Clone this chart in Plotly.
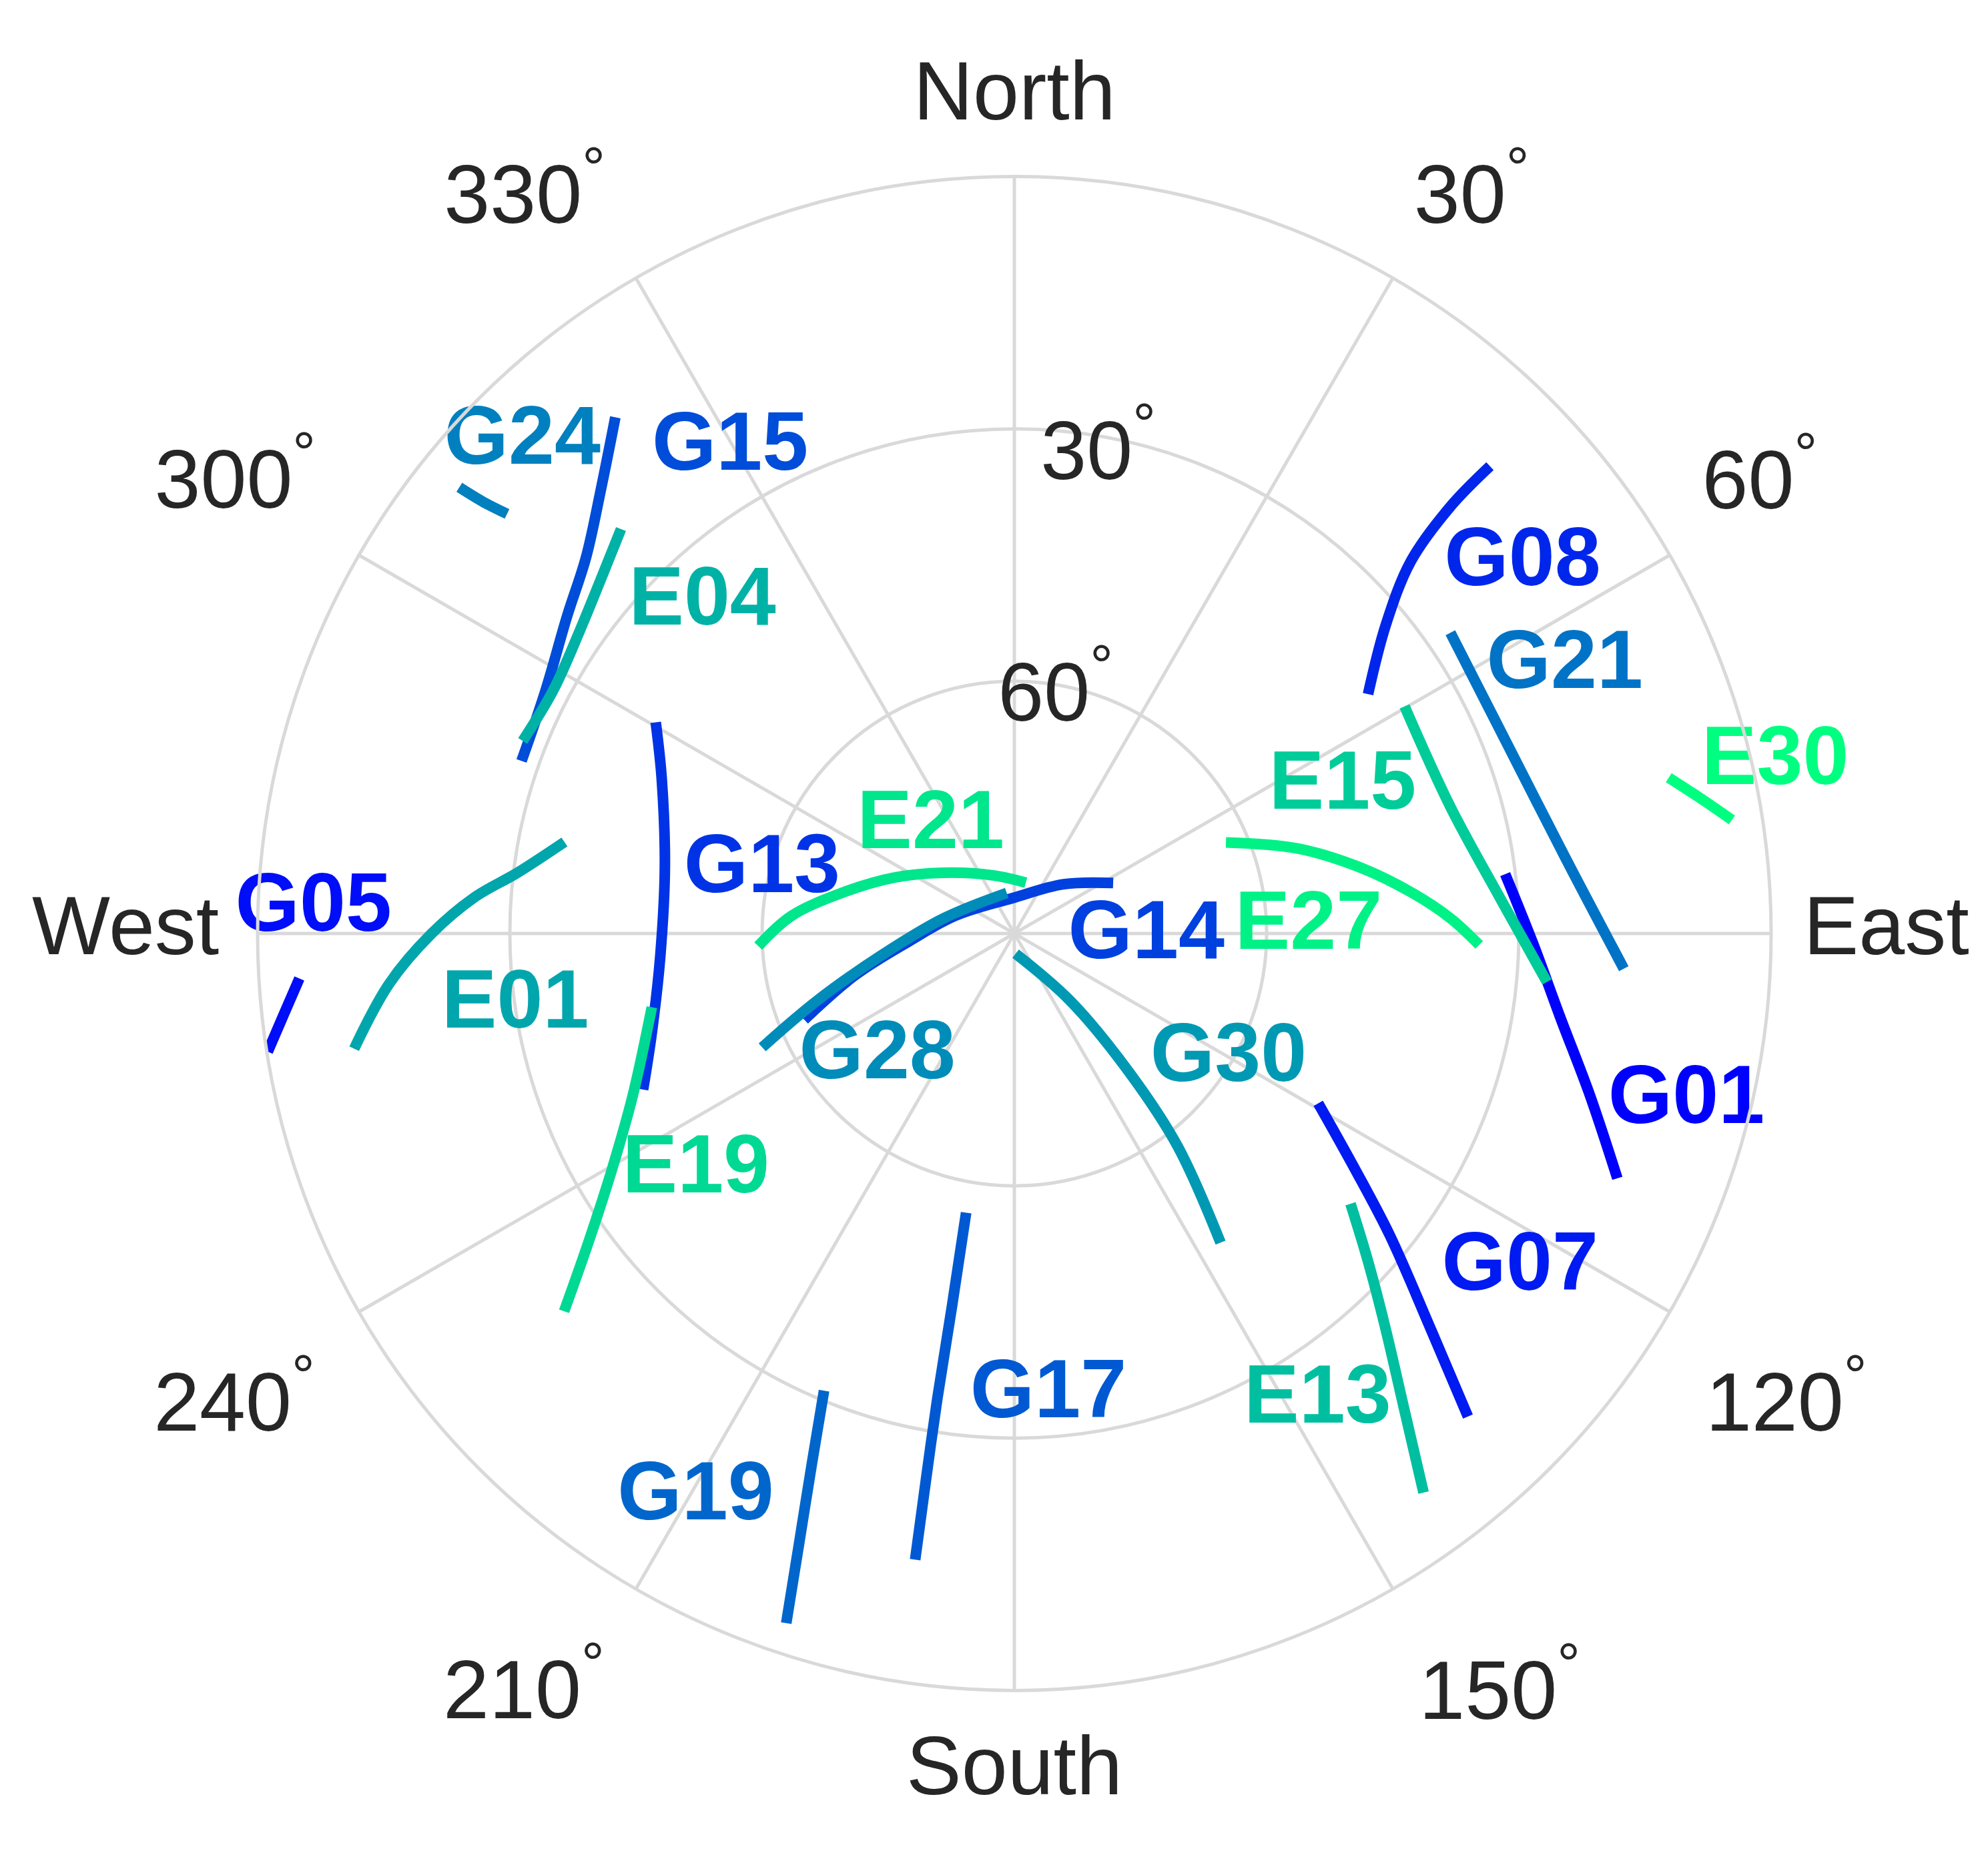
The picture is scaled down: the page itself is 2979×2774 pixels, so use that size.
import plotly.graph_objects as go

# satellite tracks: azimuth (deg, clockwise from north), elevation (deg)
G01_az = [83.1, 91.1, 98.6, 105.7, 112.1]
G01_el = [31.2, 28.3, 24.4, 18.9, 12.6]
G05_az = [266.4, 263.7, 261.0]
G05_el = [4.8, 2.6, 0.1]
G07_az = [119.2, 124.7, 128.8, 133.6, 136.8]
G07_el = [48.6, 40.7, 32.7, 21.5, 11.2]
G08_az = [45.5, 45.6, 46.8, 50.3, 55.9]
G08_el = [10.7, 17.4, 25.3, 32.6, 39.2]
G13_az = [300.5, 293.7, 280.7, 266.3, 254.7, 247.2]
G13_el = [40.5, 44.2, 47.7, 47.8, 45.3, 42.1]
G14_az = [62.9, 45.0, 355.9, 286.9, 265.9, 255.3, 247.7]
G14_el = [76.8, 81.7, 85.8, 82.7, 77.5, 70.4, 63.0]
G15_az = [322.3, 317.2, 311.3, 305.3, 297.4, 289.3]
G15_el = [12.4, 17.7, 22.2, 24.8, 27.2, 27.9]
G17_az = [189.8, 189.5, 189.4, 189.2, 189.0]
G17_el = [56.3, 45.2, 33.9, 24.6, 14.6]
G19_az = [202.6, 200.9, 199.4, 198.3]
G19_el = [31.1, 22.5, 12.8, 3.6]
G21_az = [55.4, 69.0, 82.3, 93.3]
G21_el = [27.0, 27.2, 23.8, 17.4]
G24_az = [308.8, 309.1, 309.6]
G24_el = [5.3, 8.6, 11.7]
G28_az = [245.7, 251.2, 260.4, 282.1, 349.4]
G28_el = [57.1, 65.2, 73.8, 81.4, 85.1]
G30_az = [176.4, 140.3, 140.4, 142.5, 146.3]
G30_el = [87.6, 79.6, 68.5, 58.1, 45.8]
E01_az = [281.5, 277.0, 273.8, 270.0, 265.4, 260.1]
E01_el = [35.4, 30.5, 25.6, 20.7, 15.4, 10.3]
E04_az = [315.8, 310.7, 304.9, 297.8, 291.4]
E04_el = [22.9, 25.2, 27.0, 28.0, 27.2]
E13_az = [128.8, 132.8, 136.6, 140.8, 143.8]
E13_el = [38.7, 32.7, 25.9, 16.5, 7.6]
E15_az = [59.8, 73.8, 86.0, 95.2]
E15_el = [36.3, 36.0, 32.0, 26.4]
E19_az = [258.5, 247.0, 239.4, 234.1, 230.0]
E19_el = [46.0, 40.7, 34.3, 27.5, 20.1]
E21_az = [267.2, 274.5, 283.2, 294.6, 310.6, 340.8, 12.7]
E21_el = [59.5, 63.4, 68.9, 74.1, 78.9, 82.7, 83.8]
E27_az = [66.7, 73.3, 79.3, 84.2, 88.0, 91.4]
E27_el = [62.6, 54.8, 48.0, 42.4, 38.1, 34.7]
E30_az = [76.6, 78.8, 81.0]
E30_el = [10.0, 6.9, 3.6]

sat_names = ["G01", "G05", "G07", "G08", "G13", "G14", "G15", "G17", "G19", "G21", "G24",
             "G28", "G30", "E01", "E04", "E13", "E15", "E19", "E21", "E27", "E30"]
sat_az = [G01_az, G05_az, G07_az, G08_az, G13_az, G14_az, G15_az, G17_az, G19_az, G21_az, G24_az,
          G28_az, G30_az, E01_az, E04_az, E13_az, E15_az, E19_az, E21_az, E27_az, E30_az]
sat_el = [G01_el, G05_el, G07_el, G08_el, G13_el, G14_el, G15_el, G17_el, G19_el, G21_el, G24_el,
          G28_el, G30_el, E01_el, E04_el, E13_el, E15_el, E19_el, E21_el, E27_el, E30_el]

# where each name is written (E30 is anchored by its left edge, inside the horizon)
label_az = [104.1, 271.9, 123.6, 54.0, 283.8, 91.7, 329.6, 175.8, 209.4, 64.2, 314.9,
            227.8, 120.6, 261.6, 316.6, 147.1, 66.1, 233.2, 321.8, 89.0, 76.1]
label_el = [7.6, 6.6, 17.8, 15.3, 59.1, 74.3, 23.2, 34.8, 12.8, 17.3, 7.4,
            68.0, 60.4, 30.0, 36.0, 23.6, 47.3, 42.7, 73.9, 55.0, 5.8]
label_pos = ["middle center"] * 20 + ["middle right"]

# "winter" colormap steps
sat_colors = ["#0000FF", "#000DF9", "#001AF2", "#0026EC", "#0033E6", "#0040DF", "#004DD9",
              "#0059D2", "#0066CC", "#0073C6", "#0080BF", "#008CB9", "#0099B3", "#00A6AC",
              "#00B2A6", "#00BFA0", "#00CC99", "#00D993", "#00E68C", "#00F286", "#00FF80"]

# azimuth labels around the horizon; radius given in zenith-distance degrees (horizon = 90)
az_ticks = [0, 90, 180, 270, 30, 60, 120, 150, 210, 240, 300, 330]
az_ticktext = ["North", "East", "South", "West",
               "30<sup>°</sup>", "60<sup>°</sup>", "120<sup>°</sup>", "150<sup>°</sup>",
               "210<sup>°</sup>", "240<sup>°</sup>", "300<sup>°</sup>", "330<sup>°</sup>"]
az_label_theta = [0, 90, 180, 270, 32.0, 59.1, 121.7, 147.6, 212.7, 238.6, 299.8, 326.2]
az_label_r = [99.3, 103.7, 99.9, 105.7, 102.6, 103.3, 107.9, 107.7, 108.0, 108.7, 106.8, 104.7]

spoke_ticks = [0, 30, 60, 90, 120, 150, 180, 210, 240, 270, 300, 330]
el_ticks = [30, 60]
el_ticktext = ["30<sup>°</sup>", "60<sup>°</sup>"]
el_label_az = [10, 10]
el_label_el = [32.6, 61.8]

FONT = "Liberation Sans, Arial, sans-serif"
GRID = "#d9d9d9"
TXT = "#262626"

W, H = 2979, 2774
CX, CY = 1512, 1391      # centre of the sky plot, px from left / top
R_SKY = 1134             # horizon radius, px
R_OUT = 1380             # radius of the outer label layer, px

fig = go.Figure()

for name, az, el, col in zip(sat_names, sat_az, sat_el, sat_colors):
    fig.add_trace(go.Scatterpolar(
        theta=az, r=[90 - e for e in el], mode="lines",
        line=dict(color=col, width=16, shape="spline", smoothing=1.0), name=name, hoverinfo="skip"))

for name, az, el, col, pos in zip(sat_names, label_az, label_el, sat_colors, label_pos):
    fig.add_trace(go.Scatterpolar(
        theta=[az], r=[90 - el], mode="text", text=[name], textposition=pos,
        textfont=dict(family=FONT, size=124, color=col, weight="bold"),
        cliponaxis=False, hoverinfo="skip"))

# elevation ring labels
fig.add_trace(go.Scatterpolar(
    theta=el_label_az, r=[90 - e for e in el_label_el], mode="text", text=el_ticktext,
    textposition="middle center", textfont=dict(family=FONT, size=124, color=TXT),
    cliponaxis=False, hoverinfo="skip"))

# azimuth labels on a larger, concentric polar layer with the same degree scale
fig.add_trace(go.Scatterpolar(
    theta=az_label_theta, r=az_label_r, mode="text", text=az_ticktext,
    textposition="middle center", textfont=dict(family=FONT, size=124, color=TXT),
    cliponaxis=False, hoverinfo="skip", subplot="polar2"))

fig.update_layout(
    width=W, height=H,
    margin=dict(l=0, r=0, t=0, b=0, pad=0),
    paper_bgcolor="white",
    showlegend=False,
    font=dict(family=FONT, color=TXT),
    polar=dict(
        bgcolor="white",
        domain=dict(x=[(CX - R_SKY) / W, (CX + R_SKY) / W],
                    y=[(H - CY - R_SKY) / H, (H - CY + R_SKY) / H]),
        angularaxis=dict(
            rotation=90, direction="clockwise",
            tickmode="array", tickvals=spoke_ticks, showticklabels=False, ticks="",
            showgrid=True, gridcolor=GRID, gridwidth=5,
            showline=True, linecolor=GRID, linewidth=5,
        ),
        radialaxis=dict(
            range=[0, 90], tickmode="array", tickvals=[90 - t for t in el_ticks],
            showticklabels=False, ticks="", showline=False,
            showgrid=True, gridcolor=GRID, gridwidth=5,
        ),
    ),
    polar2=dict(
        bgcolor="rgba(0,0,0,0)",
        domain=dict(x=[(CX - R_OUT) / W, (CX + R_OUT) / W],
                    y=[(H - CY - R_OUT) / H, (H - CY + R_OUT) / H]),
        angularaxis=dict(rotation=90, direction="clockwise", visible=False),
        radialaxis=dict(range=[0, 90 * R_OUT / R_SKY], visible=False),
    ),
)

fig.write_html("out.html")
